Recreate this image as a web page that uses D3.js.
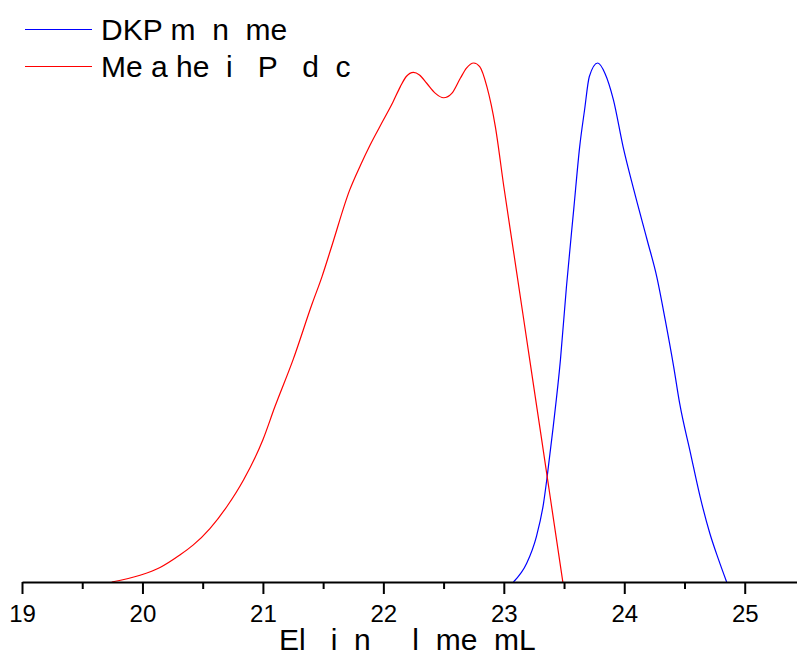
<!DOCTYPE html>
<html>
<head>
<meta charset="utf-8">
<script src="https://cdn.jsdelivr.net/npm/d3@7"></script>
<style>
  html, body { margin: 0; padding: 0; background: #fff; }
  svg { display: block; }
  text { font-family: "Liberation Sans", Arial, sans-serif; white-space: pre; }
</style>
</head>
<body>
<svg id="chart" width="797" height="652"></svg>
<script>
// ---- data ----
const xTicks = [19, 20, 21, 22, 23, 24, 25];
const xMinorTicks = [19.5, 20.5, 21.5, 22.5, 23.5, 24.5];
const xTitle = "El   i  n     l  me  mL";
const seriesNames = ["DKP m  n  me", "Me a he  i   P   d  c"];
const seriesColors = ["#0000ff", "#ff0000"];

const blueX = [23.08, 23.19, 23.27, 23.33, 23.36, 23.41, 23.47, 23.52, 23.58, 23.63, 23.67, 23.71, 23.78, 23.84, 23.91, 23.99, 24.08, 24.19, 24.27, 24.34, 24.41, 24.46, 24.55, 24.63, 24.71, 24.78, 24.85];
const blueY = [0, 0.036, 0.087, 0.152, 0.203, 0.299, 0.428, 0.569, 0.717, 0.839, 0.909, 0.974, 1.0, 0.980, 0.929, 0.839, 0.755, 0.659, 0.588, 0.505, 0.415, 0.344, 0.248, 0.164, 0.094, 0.045, 0];

const redX = [19.745, 19.98, 20.146, 20.31, 20.42, 20.56, 20.70, 20.84, 21.0, 21.10, 21.25, 21.41, 21.49, 21.57, 21.72, 21.81, 21.89, 22.0, 22.08, 22.14, 22.19, 22.25, 22.30, 22.36, 22.43, 22.50, 22.57, 22.64, 22.69, 22.75, 22.80, 22.86, 22.93, 23.00, 23.08, 23.16, 23.25, 23.31, 23.36, 23.42, 23.49];
const redY = [0, 0.013, 0.028, 0.052, 0.071, 0.103, 0.145, 0.197, 0.274, 0.338, 0.428, 0.537, 0.588, 0.646, 0.755, 0.803, 0.842, 0.890, 0.925, 0.954, 0.974, 0.982, 0.977, 0.961, 0.942, 0.933, 0.942, 0.971, 0.990, 1.0, 0.993, 0.954, 0.877, 0.762, 0.638, 0.514, 0.374, 0.281, 0.203, 0.109, 0];

// ---- chart ----
const svg = d3.select("#chart");
const x = d3.scaleLinear().domain([19, 25.434]).range([22, 797]);
const y = d3.scaleLinear().domain([0, 1]).range([582, 63]);

const line = d3.line()
  .x(d => x(d[0]))
  .y(d => y(d[1]))
  .curve(d3.curveMonotoneX);

const series = [
  d3.zip(blueX, blueY),
  d3.zip(redX, redY)
];

svg.selectAll("path.series")
  .data(series)
  .join("path")
  .attr("class", "series")
  .attr("fill", "none")
  .attr("stroke", (d, i) => seriesColors[i])
  .attr("stroke-width", 1.2)
  .attr("d", line);

// minor ticks
svg.append("g")
  .attr("transform", "translate(0,582)")
  .call(d3.axisBottom(x).tickValues(xMinorTicks).tickSize(7).tickFormat(""))
  .call(g => g.select(".domain").remove())
  .call(g => g.selectAll("line").attr("stroke", "#000").attr("stroke-width", 2));

// major axis
const ax = svg.append("g")
  .attr("transform", "translate(0,582)")
  .call(d3.axisBottom(x).tickValues(xTicks).tickSize(12).tickSizeOuter(0).tickPadding(5).tickFormat(d3.format("d")));
ax.select(".domain").attr("stroke", "#000").attr("stroke-width", 2);
ax.selectAll("line").attr("stroke", "#000").attr("stroke-width", 2);
ax.selectAll("text")
  .attr("fill", "#000")
  .attr("dy", null)
  .attr("y", 40)
  .attr("font-size", 24)
  .attr("font-family", "Liberation Sans, Arial, sans-serif");

// x title
svg.append("text")
  .attr("x", 279)
  .attr("y", 650)
  .attr("font-size", 30)
  .attr("fill", "#000")
  .text(xTitle);

// legend
const leg = svg.append("g");
seriesNames.forEach((name, i) => {
  const ly = 29.5 + i * 37;
  leg.append("line")
    .attr("x1", 25).attr("x2", 92)
    .attr("y1", ly).attr("y2", ly)
    .attr("stroke", seriesColors[i])
    .attr("stroke-width", 1.2);
  leg.append("text")
    .attr("x", 101)
    .attr("y", ly + 10.5)
    .attr("font-size", 30)
    .attr("fill", "#000")
    .text(name);
});
</script>
</body>
</html>
